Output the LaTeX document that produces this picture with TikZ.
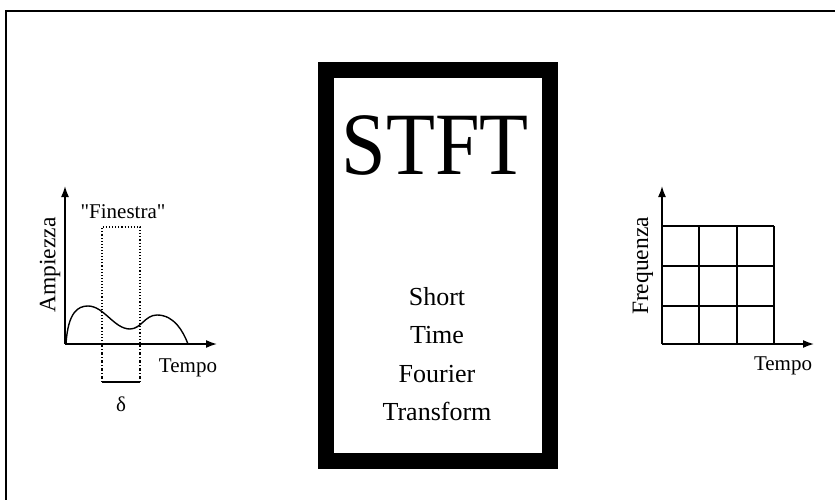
\documentclass[tikz,border=0pt]{standalone}
\usepackage{fontspec}
\setmainfont{Liberation Serif}
\usetikzlibrary{arrows.meta}
\tikzset{
  axis/.style={line width=1.6pt, -{Latex[length=11pt,width=8pt]}},
  lbl/.style={font=\fontsize{21}{24}\selectfont, inner sep=0pt},
  vlbl/.style={font=\fontsize{23.5}{26}\selectfont, inner sep=0pt, rotate=90},
  boxlbl/.style={font=\fontsize{26}{30}\selectfont, inner sep=0pt, anchor=base},
  gridline/.style={line width=1.7pt},
}
\begin{document}
\begin{tikzpicture}[x=1pt, y=-1pt]
\useasboundingbox (0,0) rectangle (835,500);

% page frame
\draw[line width=2pt] (6,500) |- (835,11);

% central STFT block
\draw[line width=16pt] (326,70) rectangle (550,461);
\node[inner sep=0pt, anchor=base, font=\fontsize{89}{90}\selectfont, xscale=0.9] (stft) at (435,174) {STFT};
\node[boxlbl] (w1) at (437,305) {Short};
\node[boxlbl] (w2) at (437,343) {Time};
\node[boxlbl] (w3) at (437,382) {Fourier};
\node[boxlbl] (w4) at (437,420) {Transform};

% left plot: signal and window
\coordinate (lo) at (65,344);
\coordinate (ly) at (65,186);
\coordinate (lx) at (217,344);
\draw[axis] (lo) -- (ly);
\draw[axis] (lo) -- (lx);
\draw[line width=1.4pt] (66,344) .. controls (68,312) and (78,306) .. (88,306)
  .. controls (104,306) and (114,329) .. (130,329)
  .. controls (141,329) and (145,315) .. (157,315)
  .. controls (174,315) and (183,331) .. (188,344);
\coordinate (wa) at (102,344);
\coordinate (wb) at (140,344);
\draw[line width=1.1pt, dotted] (wa) -- (102,227) -- (140,227) -- (wb);
\draw[line width=1.1pt, dash dot] (wa) -- (102,382);
\draw[line width=1.1pt, dash dot] (wb) -- (140,382);
\draw[line width=1.3pt] (102,382) -- (140,382);
\node[lbl] (fin) at (123,212) {\textquotedbl Finestra\textquotedbl};
\node[vlbl] (amp) at (50,265) {Ampiezza};
\node[lbl] (tl) at (188,368) {Tempo};
\node[lbl] (delta) at (121,404) {δ};

% right plot: time-frequency grid
\coordinate (ro) at (662,344);
\coordinate (ry) at (662,186);
\coordinate (rx) at (814,344);
\draw[axis] (ro) -- (ry);
\draw[axis] (ro) -- (rx);
\foreach \x in {699,737,774} \draw[gridline] (\x,344) -- (\x,226);
\foreach \y in {226,266,306} \draw[gridline] (662,\y) -- (774,\y);
\node[vlbl] (frq) at (643,266) {Frequenza};
\node[lbl] (tr) at (783,366) {Tempo};
\end{tikzpicture}
\end{document}
